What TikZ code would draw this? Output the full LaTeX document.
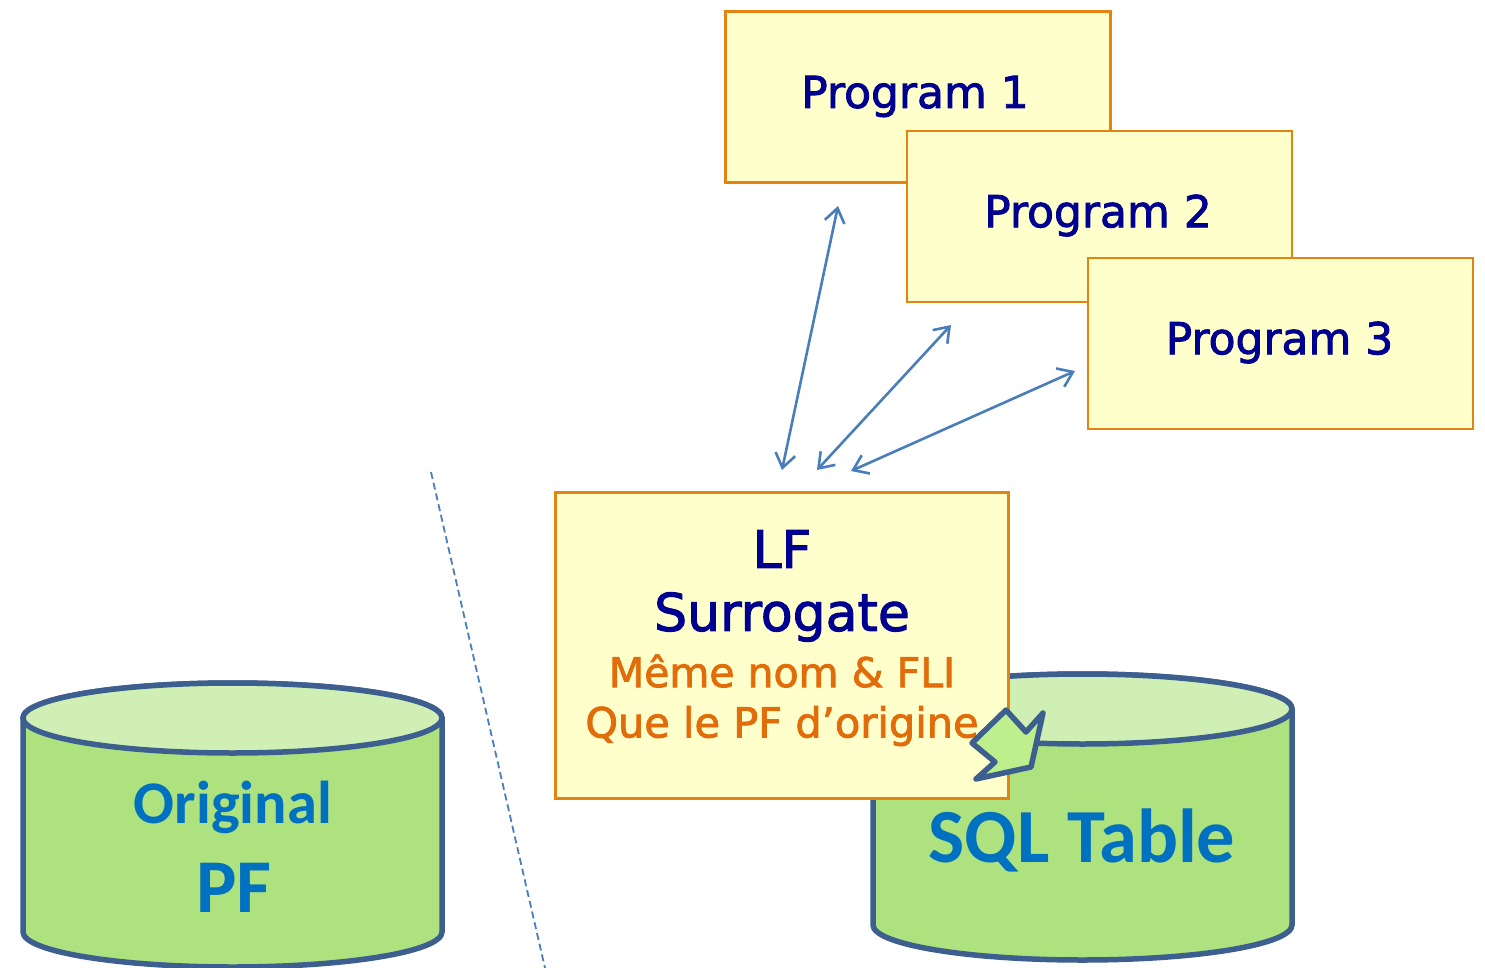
\documentclass[tikz,border=0pt]{standalone}
\usepackage{fontspec}
\setmainfont{Open Sans}
\newfontfamily\progf[FakeBold=2]{DejaVu Sans}
\newfontfamily\calf{Carlito}
\usetikzlibrary{arrows.meta}
\definecolor{boxfill}{HTML}{FFFFCC}
\definecolor{boxline}{HTML}{E48312}
\definecolor{navy}{HTML}{000090}
\definecolor{orangetxt}{HTML}{E36C0A}
\definecolor{cylside}{HTML}{AEE27E}
\definecolor{cyltop}{HTML}{CFEFB4}
\definecolor{cylline}{HTML}{3D5F8F}
\definecolor{bluetxt}{HTML}{0070C0}
\definecolor{arrowc}{HTML}{4A7EBB}
\definecolor{bent}{HTML}{BDF08C}
\tikzset{
 x=1pt,y=-1pt,
 progbox/.style={draw=boxline,fill=boxfill,line width=2.4pt,minimum width=385pt,minimum height=171pt,inner sep=0pt},
 progtext/.style={text=navy,font=\progf\fontsize{44}{50}\selectfont,inner sep=0pt,anchor=center},
 link/.style={draw=arrowc,line width=2.6pt,{Straight Barb[length=14pt,width=20pt,line width=2.6pt]}-{Straight Barb[length=14pt,width=20pt,line width=2.6pt]}},
 cyl/.style={draw=cylline,line width=5.5pt,fill=cylside},
 cyltopst/.style={draw=cylline,line width=5.5pt,fill=cyltop},
}
\begin{document}
\begin{tikzpicture}
\useasboundingbox (0,0) rectangle (1485,968);
\clip (0,0) rectangle (1485,968);
\path[cyl] (23,718) -- (23,932) arc[start angle=180,end angle=0,x radius=209.5,y radius=35] -- (442,718) arc[start angle=0,end angle=180,x radius=209.5,y radius=-35] -- cycle;
\path[cyltopst] (232.5,718) ellipse[x radius=209.5,y radius=35];
\path[cyl] (873,709) -- (873,925) arc[start angle=180,end angle=0,x radius=209.5,y radius=35] -- (1292,709) arc[start angle=0,end angle=180,x radius=209.5,y radius=-35] -- cycle;
\path[cyltopst] (1082.5,709) ellipse[x radius=209.5,y radius=35];
\node[text=bluetxt,inner sep=0pt] (orig) at (233,807) {\calf\bfseries\fontsize{60.5}{62}\selectfont Original};
\node[text=bluetxt,inner sep=0pt] (pf) at (234,888) {\calf\bfseries\fontsize{76}{78}\selectfont PF};
\node[text=bluetxt,inner sep=0pt] (sql) at (1082,840) {\calf\bfseries\fontsize{76.5}{78}\selectfont SQL Table};
\node[progbox] (p1) at (918,97) {};
\node[progtext] (p1t) at (915,96.5) {Program 1};
\node[progbox] (p2) at (1099.5,216.5) {};
\node[progtext] (p2t) at (1098,215.5) {Program 2};
\node[progbox] (p3) at (1280.5,343.5) {};
\node[progtext] (p3t) at (1279.5,342.5) {Program 3};
\node[draw=boxline,fill=boxfill,line width=2.4pt,minimum width=453pt,minimum height=306pt,inner sep=0pt] (lf) at (782,645.5) {};
\node[progtext,font=\progf\fontsize{52}{56}\selectfont] (lf1) at (782,549) {LF};
\node[progtext,font=\progf\fontsize{52}{56}\selectfont] (lf2) at (782,617) {Surrogate};
\node[text=orangetxt,font=\progf\fontsize{41}{46}\selectfont,inner sep=0pt] (lf3) at (782,671) {Même nom \& FLI};
\node[text=orangetxt,font=\progf\fontsize{41.5}{46}\selectfont,inner sep=0pt] (lf4) at (782,726) {Que le PF d’origine};
\coordinate (a1) at (782,470);
\coordinate (b1) at (838,206);
\coordinate (a2) at (817,470);
\coordinate (b2) at (951,325);
\coordinate (a3) at (851,471);
\coordinate (b3) at (1075,371);
\draw[link] (a1) -- (b1);
\draw[link] (a2) -- (b2);
\draw[link] (a3) -- (b3);
\coordinate (d1) at (431,472);
\coordinate (d2) at (545,968);
\draw[arrowc,line width=1.8pt,dash pattern=on 7pt off 4pt] (d1) -- (d2);
\draw[draw=cylline,fill=bent,line width=5.5pt,line join=round] (972,743) -- (1006,710) -- (1026,732) -- (1043,713) -- (1031,767) -- (976,779) -- (995,762) -- cycle;
\end{tikzpicture}
\end{document}
